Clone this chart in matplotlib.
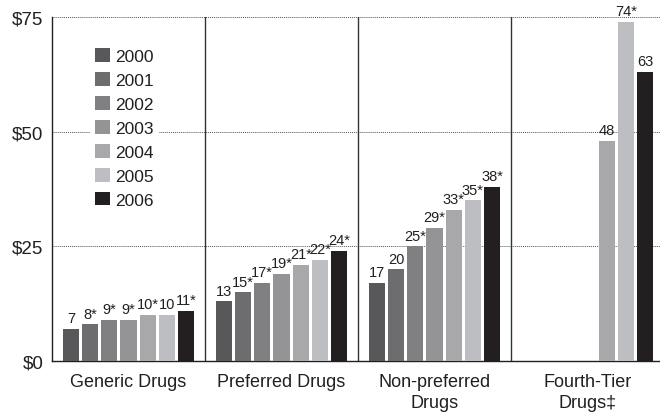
import numpy as np
import matplotlib
matplotlib.use("Agg")
import matplotlib.pyplot as plt
from matplotlib.patches import Patch
from matplotlib import font_manager

# Condensed sans if available
fams = {f.name for f in font_manager.fontManager.ttflist}
base = "Liberation Sans Narrow" if "Liberation Sans Narrow" in fams else "Liberation Sans"
plt.rcParams['font.family'] = [base, 'DejaVu Sans']

categories = ["Generic Drugs", "Preferred Drugs", "Non-preferred\nDrugs", "Fourth-Tier\nDrugs\u2021"]
years = ["2000", "2001", "2002", "2003", "2004", "2005", "2006"]
# values[category][year]; None where no data
values = [
    [7, 8, 9, 9, 10, 10, 11],
    [13, 15, 17, 19, 21, 22, 24],
    [17, 20, 25, 29, 33, 35, 38],
    [None, None, None, None, 48, 74, 63],
]
labels = [
    ["7", "8*", "9*", "9*", "10*", "10", "11*"],
    ["13", "15*", "17*", "19*", "21*", "22*", "24*"],
    ["17", "20", "25*", "29*", "33*", "35*", "38*"],
    [None, None, None, None, "48", "74*", "63"],
]
colors = ["#58585a", "#6d6d70", "#808083", "#949497", "#a8a8ab", "#bdbec1", "#231f20"]
yticks = [0, 25, 50, 75]
ytick_labels = ["$0", "$25", "$50", "$75"]

fig = plt.figure(figsize=(6.6, 4.14), dpi=100)
ax = fig.add_axes([52/660, 1 - 362/414, 612/660, 344/414])

step = 0.1255
width = 0.105
for g, (vals, labs) in enumerate(zip(values, labels)):
    for i, (v, lab) in enumerate(zip(vals, labs)):
        if v is None:
            continue
        x = g + 0.5 + (i - 3) * step
        ax.bar(x, v, width=width, color=colors[i], zorder=3)
        ax.text(x, v + 0.8, lab, ha="center", va="bottom", fontsize=10.5,
                color="#231f20", clip_on=False, zorder=4)

ax.set_xlim(0, 4)
ax.set_ylim(0, 75)

# dotted grid
for y in yticks[1:]:
    ax.axhline(y, color="#555555", linestyle=(0, (1, 1)), linewidth=0.7, zorder=1)
# group dividers
for g in range(1, 4):
    ax.axvline(g, color="#333333", linewidth=1.0, zorder=2)

ax.set_yticks(yticks)
ax.set_yticklabels(ytick_labels, fontsize=13.5, color="#231f20")
ax.set_xticks([g + 0.5 for g in range(4)])
ax.set_xticklabels(categories, fontsize=13, color="#231f20", linespacing=1.3)
ax.tick_params(axis="x", length=0, pad=9)
ax.tick_params(axis="y", length=0, pad=6)

for s in ["top", "right"]:
    ax.spines[s].set_visible(False)
for s in ["left", "bottom"]:
    ax.spines[s].set_color("#231f20")
    ax.spines[s].set_linewidth(1.0)

handles = [Patch(facecolor=c, edgecolor="none") for c in colors]
leg = ax.legend(handles, years, loc="upper left", bbox_to_anchor=(0.048, 0.95),
                frameon=True, fontsize=12.5, handlelength=0.85, handleheight=0.85,
                handletextpad=0.3, labelspacing=0.46, borderpad=0.3,
                edgecolor="none", facecolor="white", framealpha=1.0)
leg.set_zorder(5)
for t in leg.get_texts():
    t.set_color("#231f20")

fig.savefig("out.png", dpi=100)
